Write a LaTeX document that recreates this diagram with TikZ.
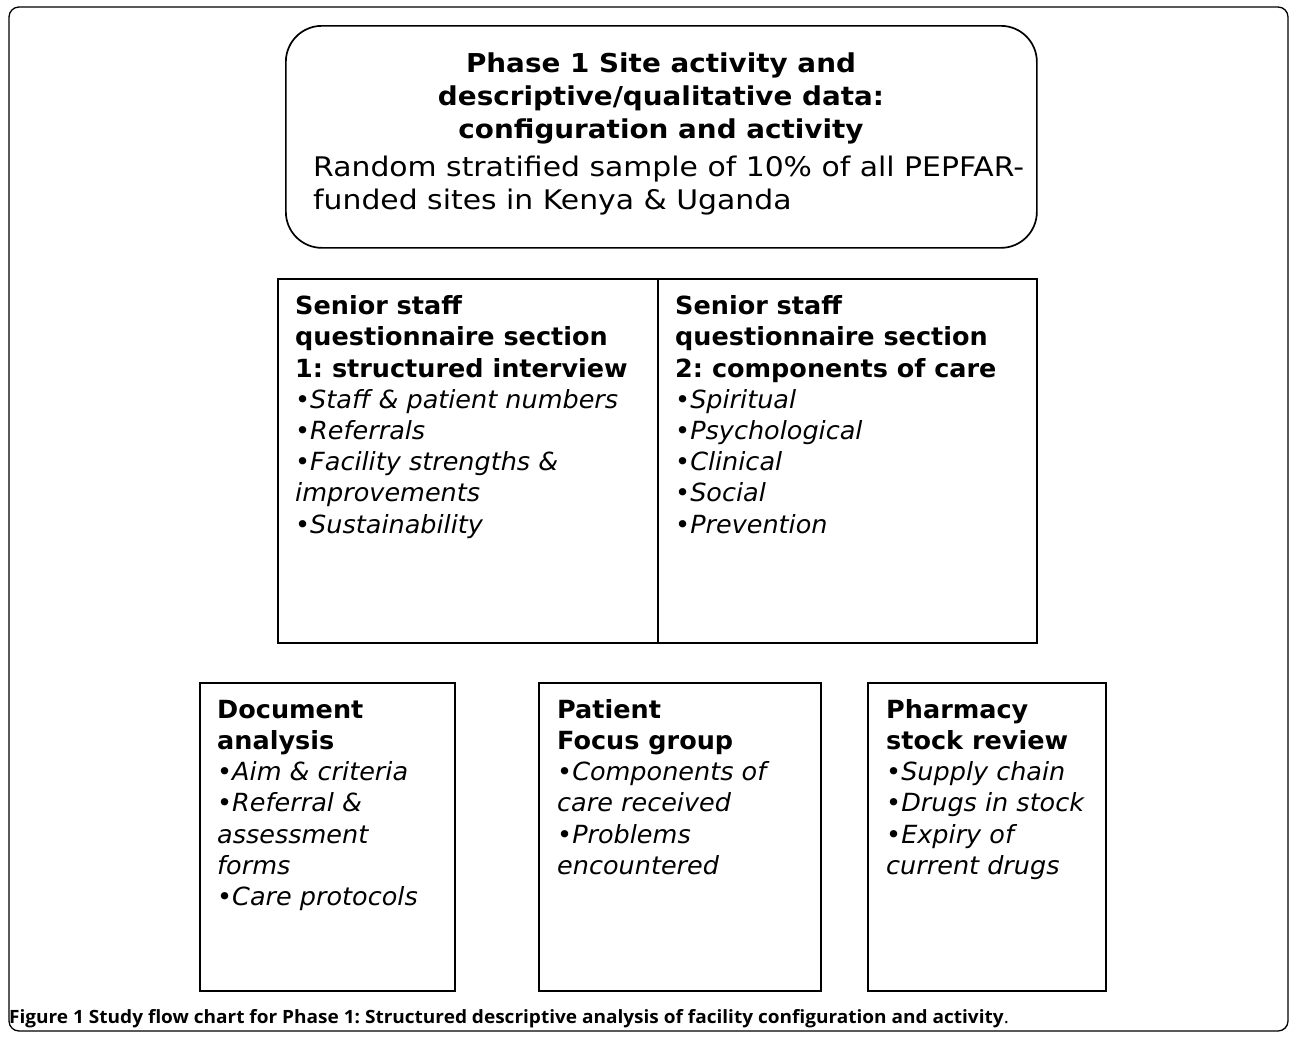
\documentclass[tikz,border=0pt]{standalone}
\usepackage{fontspec}
\setmainfont{DejaVu Sans}[FakeStretch=1.02]
\newfontfamily\titlefont{DejaVu Sans}[FakeStretch=1.07]
\newfontfamily\topfont{DejaVu Sans}[FakeStretch=1.105]
\newfontfamily\capfont{Open Sans}[FakeStretch=1.04]
\newcommand{\fl}{\rule{0pt}{20pt}}
\frenchspacing
\begin{document}
\begin{tikzpicture}[x=1pt,y=-1pt,
  box/.style={draw,line width=1.6pt,rectangle,inner sep=0pt},
  txt/.style={anchor=north west,inner sep=0pt,align=left,font=\fontsize{25}{31.2}\selectfont},
  ttl/.style={anchor=north,inner sep=0pt,align=center,font=\titlefont\fontsize{26}{33}\selectfont\bfseries}]
\useasboundingbox (0,0) rectangle (1290,1036);
\draw[line width=1.3pt,rounded corners=10pt] (9,7) rectangle (1288,1031);
% top box
\node[draw,line width=1.7pt,rounded corners=36pt,minimum width=751pt,minimum height=222pt,inner sep=0pt,anchor=north west] (top) at (285,25) {};
\node[ttl] (toptitle) at (661,52) {\fl Phase 1 Site activity and\\descriptive/qualitative data:\\configuration and activity};
\node[txt,font=\topfont\fontsize{27}{32.5}\selectfont] (toptext) at (313,156) {\fl Random stratified sample of 10\% of all PEPFAR-\\funded sites in Kenya \& Uganda};
% middle boxes
\node[box,minimum width=380pt,minimum height=364pt,anchor=north west] (s1) at (277,278) {};
\node[box,minimum width=379pt,minimum height=364pt,anchor=north west] (s2) at (657,278) {};
\node[txt] (s1t) at (295,294.5) {\fl\textbf{Senior staff}\\\textbf{questionnaire section}\\\textbf{1: structured interview}\\\textit{•Staff \& patient numbers}\\\textit{•Referrals}\\\textit{•Facility strengths \&}\\\textit{improvements}\\\textit{•Sustainability}};
\node[txt] (s2t) at (675,294.5) {\fl\textbf{Senior staff}\\\textbf{questionnaire section}\\\textbf{2: components of care}\\\textit{•Spiritual}\\\textit{•Psychological}\\\textit{•Clinical}\\\textit{•Social}\\\textit{•Prevention}};
% bottom boxes
\node[box,minimum width=255pt,minimum height=308pt,anchor=north west] (b1) at (199,682) {};
\node[box,minimum width=282pt,minimum height=308pt,anchor=north west] (b2) at (538,682) {};
\node[box,minimum width=238pt,minimum height=308pt,anchor=north west] (b3) at (867,682) {};
\node[txt] (b1t) at (217,698) {\fl\textbf{Document}\\\textbf{analysis}\\\textit{•Aim \& criteria}\\\textit{•Referral \&}\\\textit{assessment}\\\textit{forms}\\\textit{•Care protocols}};
\node[txt] (b2t) at (557,698) {\fl\textbf{Patient}\\\textbf{Focus group}\\\textit{•Components of}\\\textit{care received}\\\textit{•Problems}\\\textit{encountered}};
\node[txt] (b3t) at (886,698) {\fl\textbf{Pharmacy}\\\textbf{stock review}\\\textit{•Supply chain}\\\textit{•Drugs in stock}\\\textit{•Expiry of}\\\textit{current drugs}};
% caption
\node[anchor=base west,inner sep=0pt,font=\capfont\fontsize{18.3}{21}\selectfont] (cap) at (9,1023) {\textbf{Figure 1 Study flow chart for Phase 1: Structured descriptive analysis of facility configuration and activity}.};
\end{tikzpicture}
\end{document}
